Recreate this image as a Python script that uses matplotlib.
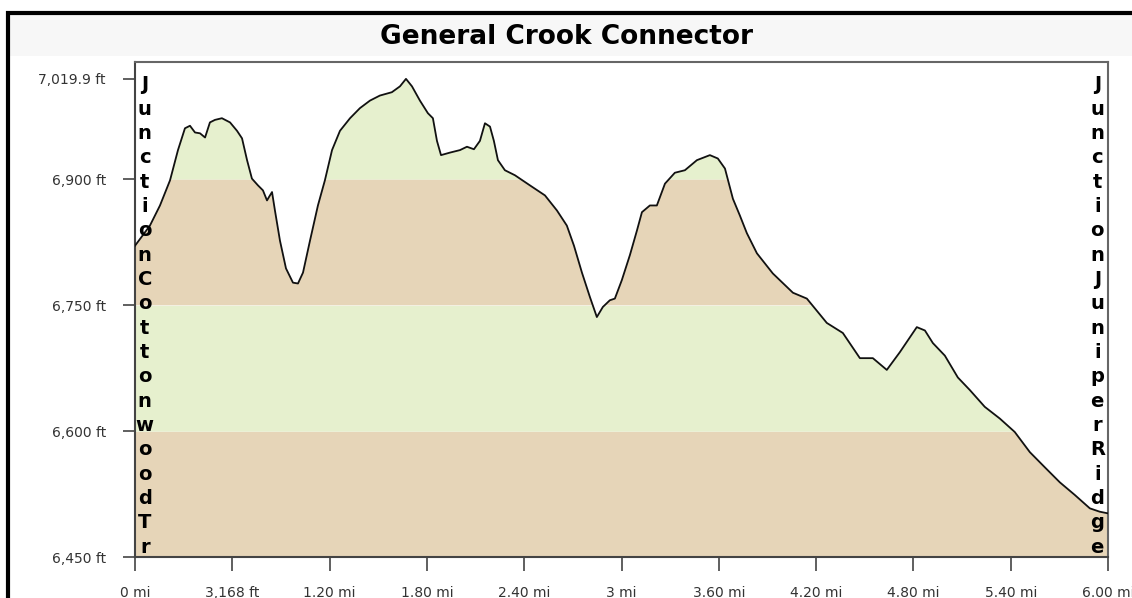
import matplotlib
matplotlib.use("Agg")
import matplotlib.pyplot as plt
import matplotlib.patches as patches
import numpy as np

title = "General Crook Connector"

# distance along trail (miles) and elevation (feet)
dist_mi = [0.0, 0.092, 0.154, 0.216, 0.265, 0.308, 0.339, 0.370, 0.401, 0.432,
           0.462, 0.493, 0.536, 0.586, 0.629, 0.660, 0.691, 0.721, 0.758, 0.789,
           0.814, 0.826, 0.845, 0.863, 0.894, 0.931, 0.974, 1.005, 1.036, 1.079,
           1.128, 1.171, 1.215, 1.264, 1.326, 1.387, 1.449, 1.510, 1.584, 1.634,
           1.671, 1.708, 1.757, 1.806, 1.837, 1.862, 1.887, 1.942, 2.004, 2.047,
           2.090, 2.127, 2.158, 2.189, 2.213, 2.238, 2.281, 2.343, 2.435, 2.528,
           2.602, 2.663, 2.707, 2.756, 2.805, 2.848, 2.885, 2.928, 2.959, 3.002,
           3.052, 3.095, 3.126, 3.175, 3.218, 3.268, 3.329, 3.391, 3.465, 3.545,
           3.594, 3.638, 3.687, 3.730, 3.773, 3.835, 3.933, 4.057, 4.143, 4.266,
           4.365, 4.470, 4.550, 4.636, 4.716, 4.821, 4.871, 4.920, 4.994, 5.074,
           5.148, 5.240, 5.333, 5.425, 5.518, 5.610, 5.703, 5.795, 5.888, 5.949,
           6.0]
elev_ft = [6821, 6845, 6869, 6899, 6935, 6961, 6964, 6956, 6955, 6950,
           6968, 6971, 6973, 6968, 6958, 6949, 6923, 6901, 6893, 6887,
           6875, 6879, 6885, 6863, 6827, 6794, 6777, 6776, 6789, 6827,
           6869, 6899, 6935, 6958, 6973, 6985, 6994, 7000, 7004, 7011,
           7019.9, 7011, 6994, 6979, 6973, 6946, 6929, 6932, 6935, 6939,
           6936, 6946, 6967, 6963, 6946, 6923, 6911, 6905, 6893, 6881,
           6863, 6845, 6821, 6789, 6760, 6736, 6748, 6756, 6758, 6780,
           6810, 6839, 6861, 6869, 6869, 6895, 6908, 6911, 6923, 6929,
           6925, 6913, 6877, 6857, 6836, 6812, 6788, 6765, 6758, 6729,
           6717, 6687, 6687, 6673, 6694, 6724, 6720, 6705, 6690, 6664,
           6649, 6629, 6615, 6599, 6575, 6557, 6539, 6524, 6508, 6504,
           6502]

yticks = [6450, 6600, 6750, 6900, 7019.9]
ytick_labels = ["6,450 ft", "6,600 ft", "6,750 ft", "6,900 ft", "7,019.9 ft"]
xticks = [0, 0.6, 1.2, 1.8, 2.4, 3.0, 3.6, 4.2, 4.8, 5.4, 6.0]
xtick_labels = ["0 mi", "3,168 ft", "1.20 mi", "1.80 mi", "2.40 mi", "3 mi",
                "3.60 mi", "4.20 mi", "4.80 mi", "5.40 mi", "6.00 mi"]

band_edges = [6450, 6600, 6750, 6900, 7040]
band_colors = ["#E6D5B8", "#E6F0CE", "#E6D5B8", "#E6F0CE"]

start_label = "Junction Cottonwood Tr"
end_label = "Junction Juniper Ridge"

x = np.array(dist_mi)
y = np.array(elev_ft)

fig = plt.figure(figsize=(11.32, 5.98), dpi=100)
fig.patch.set_facecolor("white")

# frame + title strip
fig.patches.append(patches.Rectangle((8 / 1132, -15 / 598), 1.2, 1 - 13 / 598 + 15 / 598,
                                     transform=fig.transFigure, fill=False,
                                     edgecolor="black", linewidth=3))
fig.patches.append(patches.Rectangle((10 / 1132, 1 - 56 / 598), 1.0, 41 / 598,
                                     transform=fig.transFigure, facecolor="#F7F7F7",
                                     edgecolor="none", zorder=-1))

ax = fig.add_axes([135 / 1132, 41 / 598, 973 / 1132, 495 / 598])
ax.set_facecolor("white")

xf = np.linspace(x.min(), x.max(), 3000)
yf = np.interp(xf, x, y)
for lo, hi, c in zip(band_edges[:-1], band_edges[1:], band_colors):
    ax.fill_between(xf, lo, np.clip(yf, lo, hi), where=yf > lo,
                    color=c, linewidth=0, zorder=1)
ax.plot(x, y, color="#111111", linewidth=1.3, zorder=3)

ax.set_xlim(0, 6.0)
ax.set_ylim(6450, 7040)
ax.set_yticks(yticks)
ax.set_yticklabels(ytick_labels)
ax.set_xticks(xticks)
ax.set_xticklabels(xtick_labels)
ax.tick_params(axis="y", direction="out", length=9, width=1.2, color="#444444",
               pad=12, labelsize=10, labelcolor="#333333")
ax.tick_params(axis="x", direction="out", length=10, width=1.2, color="#444444",
               pad=11, labelsize=10, labelcolor="#333333")
for s in ax.spines.values():
    s.set_color("#666666")
    s.set_linewidth(1.5)
ax.spines["left"].set_color("#444444")
ax.spines["bottom"].set_color("#444444")

# stacked letters along the sides
for label, xpos in [(start_label, 0.010), (end_label, 0.989)]:
    letters = [ch for ch in label if ch != " "]
    ys = np.linspace(0.954, 0.020, len(letters))
    for ch, yy in zip(letters, ys):
        ax.text(xpos, yy, ch, transform=ax.transAxes, ha="center", va="center",
                fontsize=14, fontweight="bold", color="black", zorder=5)

fig.text(0.5, 1 - 37 / 598, title, ha="center", va="center",
         fontsize=19, fontweight="bold", color="black")

fig.savefig("out.png", dpi=100)
